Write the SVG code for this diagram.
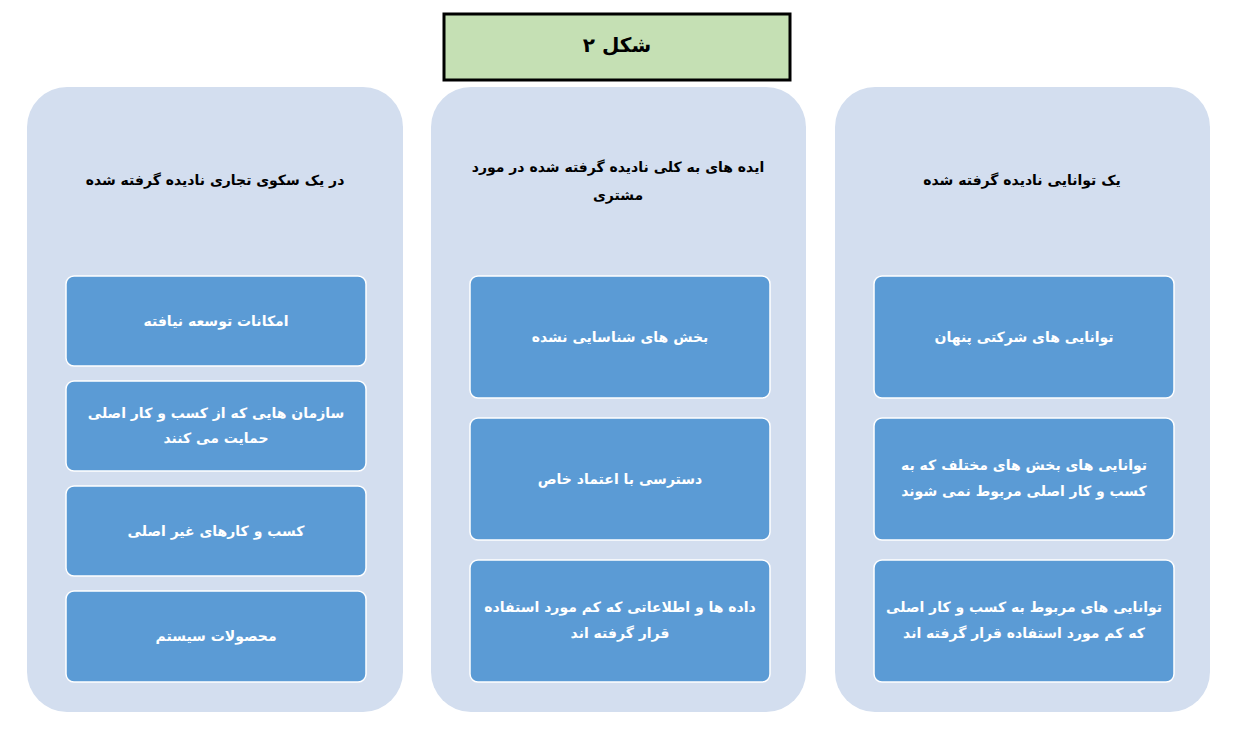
<svg xmlns="http://www.w3.org/2000/svg" width="1235" height="737" viewBox="0 0 1235 737">
<style>
.col{fill:#d3deef}
.box{fill:#5b9bd5;stroke:#fff;stroke-width:1.5}
.h{font-family:"DejaVu Sans",sans-serif;font-size:14px;font-weight:bold;fill:#000;text-anchor:middle;direction:rtl}
.t{font-family:"DejaVu Sans",sans-serif;font-size:14px;font-weight:bold;fill:#fff;text-anchor:middle;direction:rtl}
</style>
<rect width="1235" height="737" fill="#fff"/>
<g id="title"><rect x="444" y="14" width="346" height="66" fill="#c5e0b4" stroke="#000" stroke-width="3"/><text class="h" x="617" y="52" style="font-size:20px">شکل ۲</text></g>
<g id="col-left"><rect class="col" x="27" y="87" width="376" height="625" rx="40"/><text class="h" x="215" y="185">در یک سکوی تجاری نادیده گرفته شده</text></g>
<g id="col-mid"><rect class="col" x="431" y="87" width="375" height="625" rx="40"/><text class="h" x="618" y="172">ایده های به کلی نادیده گرفته شده در مورد</text><text class="h" x="618" y="200">مشتری</text></g>
<g id="col-right"><rect class="col" x="835" y="87" width="375" height="625" rx="40"/><text class="h" x="1022" y="185">یک توانایی نادیده گرفته شده</text></g>
<g id="l1"><rect class="box" x="66" y="276" width="300" height="90" rx="8"/><text class="t" x="216" y="326">امکانات توسعه نیافته</text></g>
<g id="l2"><rect class="box" x="66" y="381" width="300" height="90" rx="8"/><text class="t" x="216" y="418">سازمان هایی که از کسب و کار اصلی</text><text class="t" x="216" y="443">حمایت می کنند</text></g>
<g id="l3"><rect class="box" x="66" y="486" width="300" height="90" rx="8"/><text class="t" x="216" y="536">کسب و کارهای غیر اصلی</text></g>
<g id="l4"><rect class="box" x="66" y="591" width="300" height="91" rx="8"/><text class="t" x="216" y="641">محصولات سیستم</text></g>
<g id="m1"><rect class="box" x="470" y="276" width="300" height="122" rx="8"/><text class="t" x="620" y="342">بخش های شناسایی نشده</text></g>
<g id="m2"><rect class="box" x="470" y="418" width="300" height="122" rx="8"/><text class="t" x="620" y="484">دسترسی با اعتماد خاص</text></g>
<g id="m3"><rect class="box" x="470" y="560" width="300" height="122" rx="8"/><text class="t" x="620" y="612">داده ها و اطلاعاتی که کم مورد استفاده</text><text class="t" x="620" y="638">قرار گرفته اند</text></g>
<g id="r1"><rect class="box" x="874" y="276" width="300" height="122" rx="8"/><text class="t" x="1024" y="342">توانایی های شرکتی پنهان</text></g>
<g id="r2"><rect class="box" x="874" y="418" width="300" height="122" rx="8"/><text class="t" x="1024" y="470">توانایی های بخش های مختلف که به</text><text class="t" x="1024" y="496">کسب و کار اصلی مربوط نمی شوند</text></g>
<g id="r3"><rect class="box" x="874" y="560" width="300" height="122" rx="8"/><text class="t" x="1024" y="612">توانایی های مربوط به کسب و کار اصلی</text><text class="t" x="1024" y="638">که کم مورد استفاده قرار گرفته اند</text></g>
<g id="connectors"></g>
</svg>
